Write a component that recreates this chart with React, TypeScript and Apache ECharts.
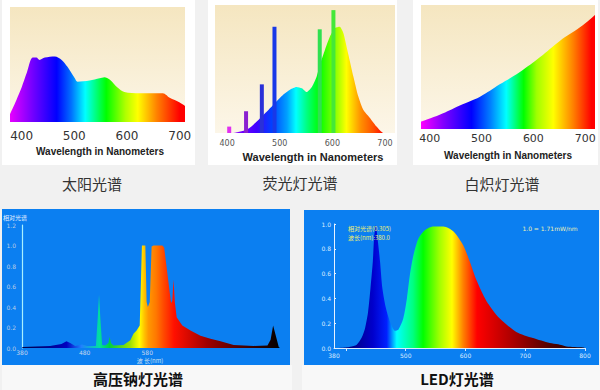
import React, { useEffect, useRef } from "react";
import * as echarts from "echarts";

// ---------- data ----------
const sunNm = [378, 390, 400, 410, 421, 428, 434, 444, 463, 476, 487, 501, 506, 529, 548, 557, 567, 582, 595, 624, 668, 681, 700, 710];
const sunVal = [0.07, 0.19, 0.3, 0.43, 0.56, 0.56, 0.54, 0.56, 0.57, 0.54, 0.48, 0.38, 0.35, 0.36, 0.38, 0.39, 0.37, 0.3, 0.26, 0.25, 0.25, 0.21, 0.17, 0.14];

const fluoNm = [377, 409, 437, 450, 469, 488, 507, 520, 532, 542, 551, 561, 570, 576, 586, 595, 605, 614, 621, 630, 640, 649, 659, 671, 684, 697, 719];
const fluoVal = [0, 0, 0.026, 0.065, 0.14, 0.22, 0.3, 0.34, 0.36, 0.35, 0.32, 0.36, 0.44, 0.53, 0.65, 0.75, 0.82, 0.83, 0.78, 0.62, 0.44, 0.29, 0.18, 0.12, 0.05, 0, 0];
const fluoSpikeNm = [404, 436, 466, 490, 576, 602];
const fluoSpikeVal = [0.05, 0.17, 0.38, 0.83, 0.81, 0.96];
const fluoSpikeColors = ["#e030f0", "#8a20d0", "#2a30d8", "#1838e8", "#30e050", "#44e838"];

const incNm = [383, 419, 458, 497, 535, 574, 613, 651, 690, 719];
const incVal = [0.06, 0.115, 0.19, 0.26, 0.36, 0.46, 0.58, 0.71, 0.82, 0.92];

const hpsNm = [380, 381, 425, 443, 451, 457, 465, 476, 484, 498, 501, 503, 505, 508, 513, 518, 520, 522, 526, 542, 553, 558, 563, 568, 571.5, 577, 579, 581, 584, 587, 590, 604, 607, 618, 620, 622, 624, 627, 636, 649, 665, 681, 697, 718, 750, 772, 777, 781, 787, 790, 792];
const hpsVal = [0, 0.01, 0.02, 0.04, 0.065, 0.05, 0.02, 0.035, 0.02, 0.02, 0.3, 0.52, 0.3, 0.03, 0.025, 0.05, 0.11, 0.05, 0.025, 0.03, 0.075, 0.14, 0.17, 0.22, 1.0, 1.0, 0.45, 0.4, 0.45, 0.99, 1.0, 1.0, 0.98, 0.44, 0.46, 0.67, 0.45, 0.3, 0.22, 0.17, 0.12, 0.09, 0.065, 0.03, 0.02, 0.025, 0.08, 0.22, 0.08, 0.01, 0];

const ledNm = [380, 400, 407, 418, 426, 432, 437, 441, 445, 447, 450, 453, 457, 461, 467, 474, 482, 488, 496, 502, 507, 513, 521, 532, 546, 563, 580, 596, 607, 619, 635, 657, 685, 713, 741, 755, 769, 797, 800];
const ledVal = [0, 0.005, 0.01, 0.027, 0.08, 0.16, 0.29, 0.48, 0.7, 0.88, 0.99, 0.88, 0.7, 0.48, 0.32, 0.21, 0.14, 0.15, 0.24, 0.4, 0.59, 0.75, 0.88, 0.95, 0.98, 0.98, 0.94, 0.83, 0.7, 0.54, 0.38, 0.24, 0.13, 0.08, 0.04, 0.03, 0.013, 0.005, 0];

const ticksVisible = [400, 500, 600, 700];
const hpsTickLabels = [380, 480, 580];
const ledTickLabels = [380, 500, 600, 700, 800];
const ledTickMarks = [400, 500, 600, 700, 800];

const panelTitles = ["太阳光谱", "荧光灯光谱", "白炽灯光谱", "高压钠灯光谱", "LED灯光谱"];
const axisTitleEn = "Wavelength in Nanometers";
const hpsYTitle = "相对光谱";
const hpsXTitle = "波 长(nm)";
const ledNotes = ["相对光谱(0.305)", "波长(nm):380.0", "1.0 = 1.71mW/nm"];

// ---------- helpers ----------
const zip = (a: number[], b: number[]) => a.map((v, i) => [v, b[i]]);
const hGrad = (stops: [number, string][]) =>
  new echarts.graphic.LinearGradient(0, 0, 1, 0, stops.map(([offset, color]) => ({ offset, color })));
const vGrad = (stops: [number, string][]) =>
  new echarts.graphic.LinearGradient(0, 0, 0, 1, stops.map(([offset, color]) => ({ offset, color })));

const BLUE = "#0b7ff1";

export default function App() {
  const ref = useRef<HTMLDivElement>(null);
  useEffect(() => {
    if (!ref.current) return;
    const chart = echarts.init(ref.current, undefined, { renderer: "svg" });

    const cream = () => vGrad([[0, "#f5e6c0"], [1, "#fcf6e8"]]);
    const rect = (x: number, y: number, w: number, h: number, fill: any, z = -10) => ({
      type: "rect", shape: { x, y, width: w, height: h }, style: { fill }, z, silent: true,
    });
    const text = (t: string, x: number, y: number, font: string, fill: string, align = "center", z = 50) => ({
      type: "text", x, y, z, silent: true,
      style: { text: t, font, fill, align, textAlign: align, verticalAlign: "middle", textVerticalAlign: "middle" },
    });

    const enFont = "bold 10px 'Liberation Sans', Arial, sans-serif";
    const cnFont = "15px 'Noto Sans CJK SC', sans-serif";
    const cnBold = "bold 15px 'Noto Sans CJK SC', sans-serif";
    const tiny = "6px 'DejaVu Sans', sans-serif";
    const tinyCn = "6px 'Noto Sans CJK SC', sans-serif";

    const graphic: any[] = [
      // cards
      rect(2, 0, 193, 165, "#ffffff", -20),
      rect(208, 0, 189, 165, "#ffffff", -20),
      rect(413, 0, 185, 165, "#ffffff", -20),
      rect(2, 209, 288, 156, BLUE, -20),
      rect(304, 210, 295, 155, BLUE, -20),
      rect(2, 365, 290, 25, "#f8f8f8", -20),
      rect(302, 365, 298, 25, "#f8f8f8", -20),
      // cream plot backgrounds
      rect(10, 7, 175, 115, cream(), -10),
      rect(215, 5, 180, 128, cream(), -10),
      rect(421, 5, 174, 124, cream(), -10),
      // texts
      text(axisTitleEn, 100, 151, enFont, "#222"),
      text(axisTitleEn, 313, 157, "bold 11px 'Liberation Sans', Arial, sans-serif", "#222"),
      text(axisTitleEn, 508, 155, enFont, "#222"),
      text(panelTitles[0], 92, 183, cnFont, "#333"),
      text(panelTitles[1], 300, 182, cnFont, "#333"),
      text(panelTitles[2], 502, 183, cnFont, "#333"),
      text(panelTitles[3], 138, 378, cnBold, "#111"),
      text(panelTitles[4], 457, 378, cnBold, "#111"),
      text(hpsYTitle, 3, 217, tinyCn, "#e8f0ff", "left"),
      text(hpsXTitle, 150, 360, tinyCn, "#d0e0f0"),
      text(ledNotes[0], 348, 228, tinyCn, "#f0f070", "left"),
      text(ledNotes[1], 348, 237, tinyCn, "#f0f070", "left"),
      text(ledNotes[2], 550, 228, tiny, "#f0f0b0"),
    ];

    const grids = [
      { left: 10, top: 7, width: 175, height: 115 },
      { left: 215, top: 5, width: 180, height: 128 },
      { left: 421, top: 5, width: 174, height: 124 },
      { left: 22, top: 225, width: 258, height: 123 },
      { left: 334, top: 224, width: 251, height: 124 },
    ];

    const hiddenLine = { show: false };
    const xAxis: any[] = [
      {
        gridIndex: 0, type: "value", min: 378, max: 710, splitLine: hiddenLine, axisLine: hiddenLine, axisTick: hiddenLine,
        axisLabel: { customValues: ticksVisible, margin: 8, fontSize: 12, fontFamily: "DejaVu Sans", color: "#333" },
      },
      {
        gridIndex: 1, type: "value", min: 377, max: 719, splitLine: hiddenLine, axisLine: hiddenLine, axisTick: hiddenLine,
        axisLabel: { customValues: ticksVisible, margin: 6, fontSize: 8, fontFamily: "DejaVu Sans", color: "#555" },
      },
      {
        gridIndex: 2, type: "value", min: 383, max: 719, splitLine: hiddenLine, axisLine: hiddenLine, axisTick: hiddenLine,
        axisLabel: { customValues: ticksVisible, margin: 4, fontSize: 11, fontFamily: "DejaVu Sans", color: "#333" },
      },
      {
        gridIndex: 3, type: "value", min: 380, max: 792, splitLine: hiddenLine, axisLine: hiddenLine, axisTick: hiddenLine,
        axisLabel: { customValues: hpsTickLabels, margin: 1, fontSize: 6, fontFamily: "DejaVu Sans", color: "#c8d8ee" },
      },
      {
        gridIndex: 4, type: "value", min: 380, max: 800, splitLine: hiddenLine,
        axisLine: { show: true, lineStyle: { color: "#dcecff", width: 1 } },
        axisTick: { show: true, customValues: ledTickMarks, length: 3, lineStyle: { color: "#dcecff" } },
        axisLabel: { customValues: ledTickLabels, margin: 4, fontSize: 6, fontFamily: "DejaVu Sans", color: "#dcecff" },
      },
    ];

    const yAxis: any[] = [
      { gridIndex: 0, type: "value", min: 0, max: 1, show: false },
      { gridIndex: 1, type: "value", min: 0, max: 1, show: false },
      { gridIndex: 2, type: "value", min: 0, max: 1, show: false },
      {
        gridIndex: 3, type: "value", min: 0, max: 1.2, interval: 0.2, splitLine: hiddenLine,
        axisLine: { show: true, lineStyle: { color: "#a8f0ff", width: 1.2 } }, axisTick: hiddenLine,
        axisLabel: { margin: 6, fontSize: 6, fontFamily: "DejaVu Sans", color: "#b8cce6", formatter: (v: number) => v.toFixed(1) },
      },
      {
        gridIndex: 4, type: "value", min: 0, max: 1, interval: 0.2, splitLine: hiddenLine,
        axisLine: { show: true, lineStyle: { color: "#e8f2ff", width: 1 } },
        axisTick: { show: true, inside: true, length: 2, lineStyle: { color: "#e8f2ff" } },
        axisLabel: { margin: 3, fontSize: 6, fontFamily: "DejaVu Sans", color: "#dcecff", formatter: (v: number) => v.toFixed(1) },
      },
    ];

    const area = (i: number, data: number[][], stops: [number, string][], smooth: number | boolean) => ({
      type: "line", xAxisIndex: i, yAxisIndex: i, data, showSymbol: false, symbol: "none", smooth,
      lineStyle: { width: 0, opacity: 0 }, areaStyle: { color: hGrad(stops), opacity: 1 }, silent: true, z: 2,
    });

    const series: any[] = [
      area(0, zip(sunNm, sunVal), [
        [0, "#e800ff"], [0.133, "#7000ff"], [0.267, "#0000ff"], [0.35, "#0070ff"], [0.43, "#00ffff"],
        [0.55, "#00ff00"], [0.66, "#b0ff00"], [0.73, "#ffff00"], [0.84, "#ff8000"], [0.97, "#ff0000"], [1, "#ff0000"],
      ], 0.3),
      area(1, zip(fluoNm, fluoVal), [
        [0, "#ff00ff"], [0.1, "#9000ff"], [0.23, "#4000ff"], [0.315, "#0040ff"], [0.4, "#00a0ff"], [0.45, "#00ffff"],
        [0.51, "#00ff80"], [0.58, "#00ff00"], [0.68, "#a0ff00"], [0.73, "#ffff00"], [0.81, "#ff9000"], [0.88, "#ff5000"], [0.93, "#ff1000"], [1, "#ff0000"],
      ], 0.2),
      {
        type: "bar", xAxisIndex: 1, yAxisIndex: 1, barWidth: 4, silent: true, z: 3,
        data: fluoSpikeNm.map((n, i) => ({ value: [n, fluoSpikeVal[i]], itemStyle: { color: fluoSpikeColors[i] } })),
      },
      area(2, zip(incNm, incVal), [
        [0, "#ff00ff"], [0.13, "#8000ff"], [0.29, "#0000ff"], [0.4, "#0080ff"], [0.49, "#00ffff"],
        [0.59, "#00ff00"], [0.665, "#a0ff00"], [0.76, "#ffff00"], [0.875, "#ff8000"], [0.98, "#ff0000"], [1, "#ff0000"],
      ], 0.4),
      area(3, zip(hpsNm, hpsVal), [
        [0, "#000040"], [0.173, "#0000c0"], [0.23, "#2080ff"], [0.3, "#00e0a0"], [0.34, "#00d040"],
        [0.42, "#a0e000"], [0.455, "#ffff00"], [0.475, "#ffc000"], [0.49, "#ff9800"], [0.52, "#ff7800"],
        [0.55, "#ff4800"], [0.59, "#ff1000"], [0.716, "#a00000"], [0.845, "#500000"], [1, "#000000"],
      ], false),
      area(4, zip(ledNm, ledVal), [
        [0, "#000060"], [0.064, "#000080"], [0.155, "#0000cc"], [0.21, "#0020ff"], [0.25, "#00ffff"],
        [0.315, "#00ff80"], [0.355, "#00ff00"], [0.42, "#a0ff00"], [0.47, "#ffff00"], [0.515, "#ff8000"],
        [0.57, "#ff0000"], [0.73, "#a00000"], [0.86, "#500000"], [1, "#200000"],
      ], 0.25),
    ];

    chart.setOption({
      animation: false,
      backgroundColor: "#f1f1f1",
      grid: grids,
      xAxis,
      yAxis,
      series,
      graphic: { elements: graphic },
    });
    return () => chart.dispose();
  }, []);
  return <div ref={ref} style={{ position: "fixed", left: 0, top: 0, width: 600, height: 390 }} />;
}
